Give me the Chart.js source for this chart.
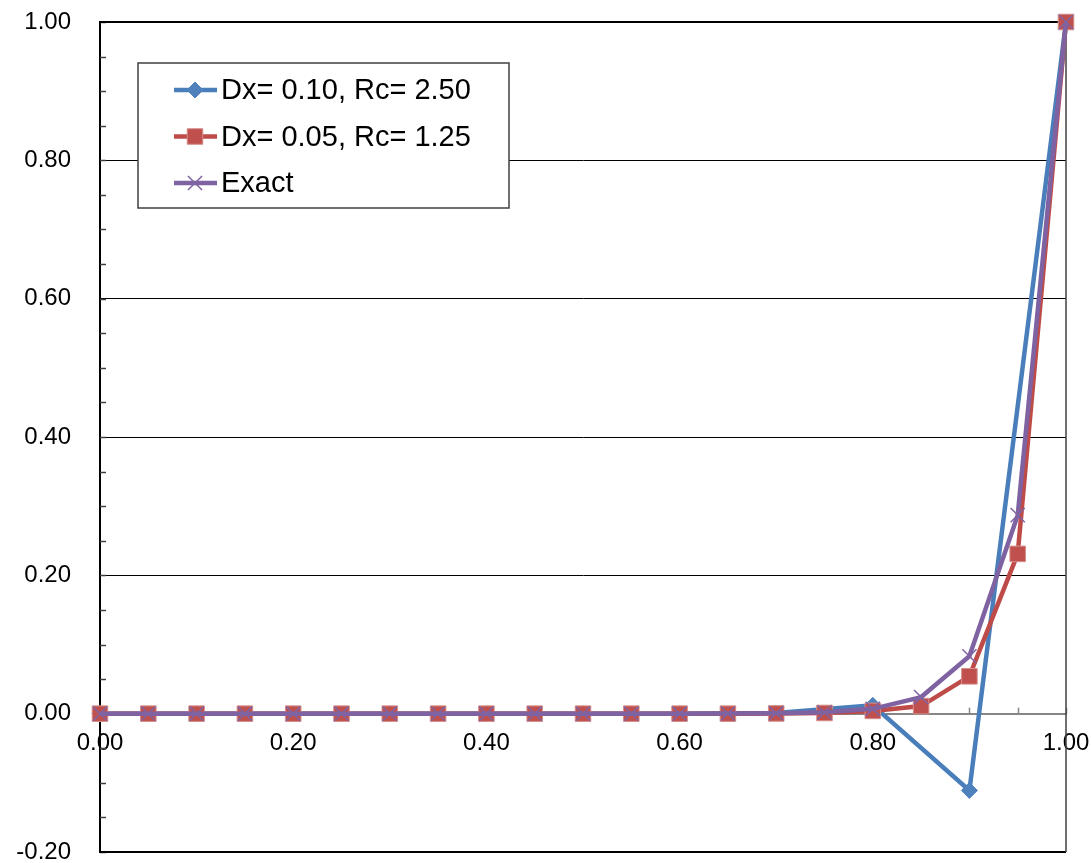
<!DOCTYPE html>
<html>
<head>
<meta charset="utf-8">
<title>Dx comparison</title>
<script src="https://cdn.jsdelivr.net/npm/chart.js@4/dist/chart.umd.min.js"></script>
<style>
  html, body { margin: 0; padding: 0; background: #fff; }
  #wrap { width: 1091px; height: 863px; }
</style>
</head>
<body>
<div id="wrap"><canvas id="chart"></canvas></div>
<script>
// Data
const xCoarse = [0, 0.1, 0.2, 0.3, 0.4, 0.5, 0.6, 0.7, 0.8, 0.9, 1.0]
const yCoarse = [0, 0, 0, 0, 0, 0, 0, 0.001, 0.012, -0.111, 1.0]

const xFine = [0, 0.05, 0.1, 0.15, 0.2, 0.25, 0.3, 0.35, 0.4, 0.45, 0.5,
  0.55, 0.6, 0.65, 0.7, 0.75, 0.8, 0.85, 0.9, 0.95, 1.0]
const yFine = [0, 0, 0, 0, 0, 0, 0, 0, 0, 0, 0,
  0, 0, 0, 0.0003, 0.001, 0.004, 0.011, 0.054, 0.231, 1.0]
const yExact = [0, 0, 0, 0, 0, 0, 0, 0, 0, 0, 0,
  0, 0, 0.0002, 0.0006, 0.002, 0.007, 0.024, 0.083, 0.287, 1.0]

const seriesLabels = ["Dx= 0.10, Rc= 2.50", "Dx= 0.05, Rc= 1.25", "Exact"]
const yTicks = { min: -0.2, max: 1.0, step: 0.2, minor: 0.05 }
const xTicks = { min: 0, max: 1.0, step: 0.2, minor: 0.05 }

const FONT = "'Liberation Sans', Arial, sans-serif"

function toPoints(xs, ys) {
  return xs.map((x, i) => ({ x: x, y: ys[i] }))
}

function fmt(v) {
  const r = Math.round(v * 100) / 100
  return (r === 0 ? 0 : r).toFixed(2)
}

// Frame, minor tick marks (drawn under the series)
const framePlugin = {
  id: "frame",
  beforeDatasetsDraw(chart) {
    const { ctx, chartArea: a, scales } = chart
    const xs = scales.x, ys = scales.y
    ctx.save()
    // minor ticks on the y axis (inside)
    ctx.strokeStyle = "#404040"
    ctx.lineWidth = 1.5
    for (let v = yTicks.min; v <= yTicks.max + 1e-9; v += yTicks.minor) {
      const py = Math.round(ys.getPixelForValue(v)) + 0.5
      ctx.beginPath()
      ctx.moveTo(a.left, py)
      ctx.lineTo(a.left + 6, py)
      ctx.stroke()
    }
    // minor ticks on the x axis (above the line at y = 0)
    const y0 = ys.getPixelForValue(0)
    ctx.strokeStyle = "#868686"
    ctx.lineWidth = 1.5
    for (let v = xTicks.min + xTicks.minor; v <= xTicks.max + 1e-9; v += xTicks.minor) {
      const px = Math.round(xs.getPixelForValue(v)) + 0.5
      ctx.beginPath()
      ctx.moveTo(px, y0)
      ctx.lineTo(px, y0 - 6)
      ctx.stroke()
    }
    // plot frame
    ctx.strokeStyle = "#000"
    ctx.lineWidth = 2
    ctx.beginPath()
    ctx.moveTo(a.left, a.top)
    ctx.lineTo(a.right, a.top)
    ctx.moveTo(a.left, a.bottom)
    ctx.lineTo(a.right, a.bottom)
    ctx.stroke()
    ctx.strokeStyle = "#404040"
    ctx.lineWidth = 1.5
    ctx.beginPath()
    ctx.moveTo(a.right, a.top)
    ctx.lineTo(a.right, a.bottom)
    ctx.stroke()
    ctx.restore()
  }
}

// Excel-like legend box: line with marker then label
function drawMarker(ctx, style, x, y, ds) {
  ctx.save()
  ctx.fillStyle = ds.pointBackgroundColor
  ctx.strokeStyle = ds.pointBorderColor
  ctx.lineWidth = ds.pointBorderWidth
  const r = ds.pointRadius
  ctx.beginPath()
  if (style === "rectRot") {
    ctx.moveTo(x, y - r); ctx.lineTo(x + r, y); ctx.lineTo(x, y + r); ctx.lineTo(x - r, y)
    ctx.closePath(); ctx.fill(); ctx.stroke()
  } else if (style === "rect") {
    const s = r * Math.SQRT1_2
    ctx.rect(x - s, y - s, 2 * s, 2 * s); ctx.fill(); ctx.stroke()
  } else {
    const s = r * Math.SQRT1_2
    ctx.moveTo(x - s, y - s); ctx.lineTo(x + s, y + s)
    ctx.moveTo(x + s, y - s); ctx.lineTo(x - s, y + s)
    ctx.stroke()
  }
  ctx.restore()
}

const legendBox = {
  id: "legendBox",
  afterDraw(chart, args, opts) {
    const { ctx, chartArea: a } = chart
    const left = a.left + opts.dx, top = a.top + opts.dy
    ctx.save()
    ctx.fillStyle = "#fff"
    ctx.fillRect(left, top, opts.width, opts.height)
    ctx.strokeStyle = "#404040"
    ctx.lineWidth = 1.5
    ctx.strokeRect(left, top, opts.width, opts.height)
    ctx.font = opts.font
    ctx.textBaseline = "middle"
    chart.data.datasets.forEach((ds, i) => {
      const y = top + opts.firstRow + i * opts.rowGap
      ctx.strokeStyle = ds.borderColor
      ctx.lineWidth = ds.borderWidth
      ctx.beginPath()
      ctx.moveTo(left + 36, y)
      ctx.lineTo(left + 79, y)
      ctx.stroke()
      drawMarker(ctx, ds.pointStyle, left + 57, y, ds)
      ctx.fillStyle = "#000"
      ctx.fillText(ds.label, left + 83, y + 1)
    })
    ctx.restore()
  }
}

const ctx = document.getElementById("chart").getContext("2d")
new Chart(ctx, {
  type: "scatter",
  data: {
    datasets: [
      {
        label: seriesLabels[0],
        data: toPoints(xCoarse, yCoarse),
        showLine: true,
        clip: false,
        borderColor: "#4A7EBB",
        borderWidth: 4.5,
        pointStyle: "rectRot",
        pointRadius: 8,
        pointBackgroundColor: "#4F81BD",
        pointBorderColor: "#4F81BD",
        pointBorderWidth: 1,
        order: 3
      },
      {
        label: seriesLabels[1],
        data: toPoints(xFine, yFine),
        showLine: true,
        clip: false,
        borderColor: "#BE4B48",
        borderWidth: 4.5,
        pointStyle: "rect",
        pointRadius: 11,
        pointBackgroundColor: "#C0504D",
        pointBorderColor: "#D58E8C",
        pointBorderWidth: 1,
        order: 2
      },
      {
        label: seriesLabels[2],
        data: toPoints(xFine, yExact),
        showLine: true,
        clip: false,
        borderColor: "#7E62A1",
        borderWidth: 4.5,
        pointStyle: "crossRot",
        pointRadius: 10,
        pointBackgroundColor: "#8064A2",
        pointBorderColor: "#8064A2",
        pointBorderWidth: 1.5,
        order: 1
      }
    ]
  },
  options: {
    responsive: true,
    maintainAspectRatio: false,
    animation: false,
    layout: { autoPadding: false, padding: { left: 0, top: 22, right: 25, bottom: 11 } },
    plugins: {
      legend: { display: false },
      tooltip: { enabled: false },
      legendBox: {
        dx: 38, dy: 41, width: 371, height: 145,
        firstRow: 27, rowGap: 46.5,
        font: "29px " + FONT
      }
    },
    scales: {
      x: {
        type: "linear",
        position: { y: 0 },
        min: xTicks.min,
        max: xTicks.max,
        ticks: {
          stepSize: xTicks.step,
          callback: fmt,
          color: "#000",
          padding: 0,
          maxRotation: 0,
          font: { family: FONT, size: 24, lineHeight: 0.9 }
        },
        grid: { drawOnChartArea: false, drawTicks: true, tickLength: 19, tickColor: "rgba(0,0,0,0)" },
        border: { display: true, color: "#868686", width: 2 }
      },
      y: {
        min: yTicks.min,
        max: yTicks.max,
        afterFit: (scale) => { scale.width = 100 },
        ticks: {
          stepSize: yTicks.step,
          callback: fmt,
          color: "#000",
          padding: 0,
          font: { family: FONT, size: 24, lineHeight: 0.9 }
        },
        grid: { color: "#000", lineWidth: 1, drawTicks: true, tickLength: 29, tickColor: "rgba(0,0,0,0)" },
        border: { display: true, color: "#000", width: 2 }
      }
    }
  },
  plugins: [framePlugin, legendBox]
})
</script>
</body>
</html>
